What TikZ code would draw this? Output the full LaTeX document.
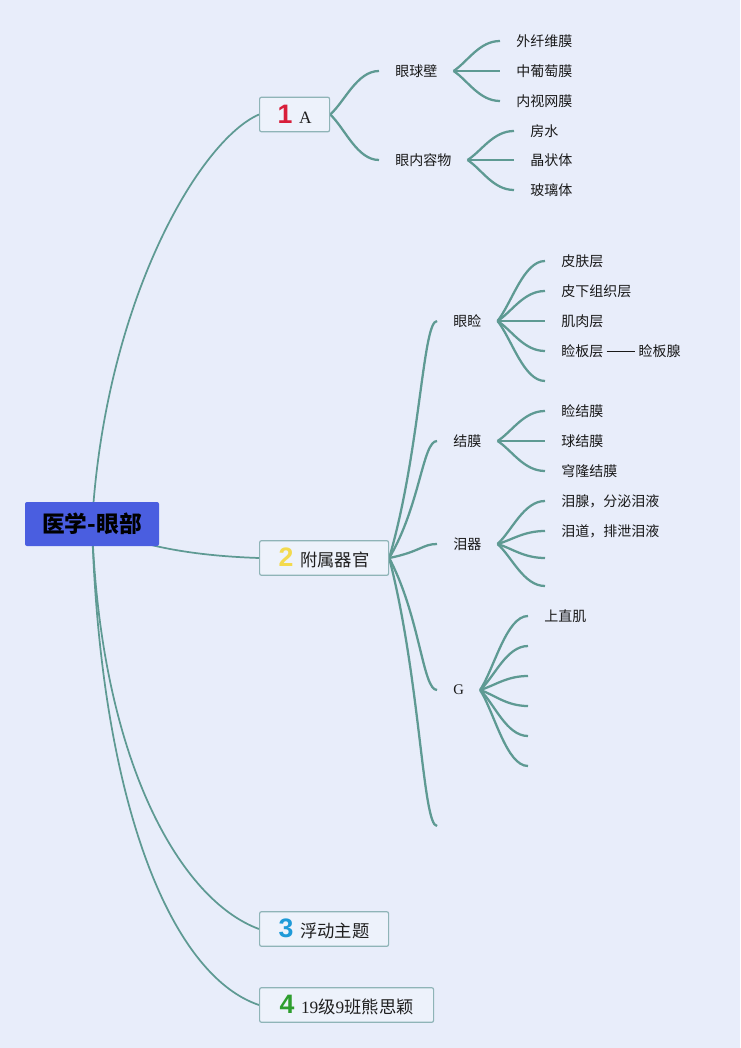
\documentclass[tikz,border=0pt]{standalone}
\usepackage{fontspec}
\setmainfont{Liberation Serif}
\newfontfamily\cjk{Noto Sans CJK SC}
\newfontfamily\badgefont{Liberation Sans}
\usetikzlibrary{calc}
\definecolor{bgc}{HTML}{E8EDFA}
\definecolor{linec}{HTML}{5E9A93}
\definecolor{rootc}{HTML}{4A5EE0}
\definecolor{boxfill}{HTML}{EDF2FB}
\definecolor{boxdraw}{HTML}{8FB4B7}
\definecolor{bred}{HTML}{D81E3A}
\definecolor{byellow}{HTML}{F3DA4E}
\definecolor{bblue}{HTML}{1E9AD8}
\definecolor{bgreen}{HTML}{2E9E2E}
\newcommand\badgenum[2]{{\badgefont\bfseries\fontsize{20}{20}\selectfont\color{#1}#2}}
\pgfdeclarelayer{bglayer}
\pgfdeclarelayer{lines}
\pgfsetlayers{bglayer,lines,main}
\tikzset{
  rootbox/.style={fill=rootc, rounded corners=1.5pt, minimum width=100.5pt, minimum height=33pt,
    inner sep=0pt, font=\cjk\bfseries\fontsize{17}{19}\selectfont, text=black},
  topic/.style={draw=boxdraw, line width=0.9pt, fill=boxfill, rounded corners=1.5pt, anchor=west,
    minimum height=26pt, inner xsep=12pt, inner ysep=0pt, font=\cjk\fontsize{13}{15}\selectfont, text=black!88},
  sub/.style={anchor=west, inner xsep=12pt, inner ysep=2pt, font=\cjk\fontsize{10.5}{12}\selectfont, text=black!90},
  rootline/.style={draw=linec, line width=1.3pt},
  fork/.style={draw=linec, line width=1.7pt},
  % short fan-shaped branch: leaves at an angle, lands horizontally
  twig/.style={to path={let \p1=(\tikztostart), \p2=(\tikztotarget) in
     .. controls (\x1+0.3*\x2-0.3*\x1,\y1+0.3*\y2-0.3*\y1) and (\x1+0.55*\x2-0.55*\x1,\y2) .. (\tikztotarget)}},
  % long branch: bends out quickly, lands horizontally
  bough/.style={to path={let \p1=(\tikztostart), \p2=(\tikztotarget) in
     .. controls (\x1+0.65*\x2-0.65*\x1,\y1+0.45*\y2-0.45*\y1) and (\x1+0.7*\x2-0.7*\x1,\y2) .. (\tikztotarget)}}
}
\begin{document}
\begin{tikzpicture}[x=0.75pt,y=-0.75pt]
\begin{pgfonlayer}{bglayer}
\path[use as bounding box, fill=bgc] (0,0) rectangle (740,1048);
\end{pgfonlayer}

% root and main topics
\node[rootbox] (root) at (92,524) {医学-眼部};
\node[topic, minimum width=52.5pt] (t1) at (259,114.5) {\badgenum{bred}{1}\hspace{5pt}{\rmfamily A}};
\node[topic, minimum width=96.75pt] (t2) at (259,558) {\badgenum{byellow}{2}\hspace{5pt}附属器官};
\node[topic, minimum width=96.75pt] (t3) at (259,929) {\badgenum{bblue}{3}\hspace{5pt}浮动主题};
\node[topic, minimum width=130.5pt] (t4) at (259,1005) {\badgenum{bgreen}{4}\hspace{5pt}{\rmfamily 19}级{\rmfamily 9}班熊思颖};

% topic 1 subtree
\node[sub] (s11) at (379,71) {眼球壁};
\node[sub] (s12) at (379,160) {眼内容物};
\node[sub] (l111) at (500,41) {外纤维膜};
\node[sub] (l112) at (500,71) {中葡萄膜};
\node[sub] (l113) at (500,101) {内视网膜};
\node[sub] (l121) at (514,131) {房水};
\node[sub] (l122) at (514,160) {晶状体};
\node[sub] (l123) at (514,190) {玻璃体};

% topic 2 subtree
\node[sub] (s21) at (437,321) {眼睑};
\node[sub] (s22) at (437,441) {结膜};
\node[sub] (s23) at (437,544) {泪器};
\node[sub] (s24) at (437,690) {\rmfamily\fontsize{11}{12}\selectfont G};
\coordinate (s25) at (437,826);

\node[sub] (l211) at (545,261) {皮肤层};
\node[sub] (l212) at (545,291) {皮下组织层};
\node[sub] (l213) at (545,321) {肌肉层};
\node[sub] (l214) at (545,351) {睑板层\hspace{2.5pt}\rule[0.36em]{21pt}{0.55pt}\hspace{3pt}睑板腺};
\coordinate (l215) at (545,381);

\node[sub] (l221) at (545,411) {睑结膜};
\node[sub] (l222) at (545,441) {球结膜};
\node[sub] (l223) at (545,471) {穹隆结膜};

\node[sub] (l231) at (545,501) {泪腺，分泌泪液};
\node[sub] (l232) at (545,531) {泪道，排泄泪液};
\coordinate (l233) at (545,558);
\coordinate (l234) at (545,586);

\node[sub] (l241) at (528,616) {上直肌};
\coordinate (l242) at (528,646);
\coordinate (l243) at (528,676);
\coordinate (l244) at (528,706);
\coordinate (l245) at (528,736);
\coordinate (l246) at (528,766);

\begin{pgfonlayer}{lines}
\draw[rootline] (root.center) .. controls (105,300) and (200,140) .. (t1.west);
\draw[rootline] (root.center) .. controls (140,548) and (200,556) .. (t2.west);
\draw[rootline] (root.center) .. controls (100,760) and (180,900) .. (t3.west);
\draw[rootline] (root.center) .. controls (100,800) and (170,975) .. (t4.west);

\foreach \s in {s11,s12} \draw[fork] (t1.east) to[twig] (\s.west);
\foreach \l in {l111,l112,l113} \draw[fork] (s11.east) to[twig] (\l.west);
\foreach \l in {l121,l122,l123} \draw[fork] (s12.east) to[twig] (\l.west);

\foreach \s in {s21,s22,s23,s24} \draw[fork] (t2.east) to[bough] (\s.west);
\draw[fork] (t2.east) to[bough] (s25);

\foreach \l in {l211,l212,l213,l214} \draw[fork] (s21.east) to[twig] (\l.west);
\draw[fork] (s21.east) to[twig] (l215);
\foreach \l in {l221,l222,l223} \draw[fork] (s22.east) to[twig] (\l.west);
\foreach \l in {l231,l232} \draw[fork] (s23.east) to[twig] (\l.west);
\foreach \l in {l233,l234} \draw[fork] (s23.east) to[twig] (\l);
\draw[fork] (s24.east) to[twig] (l241.west);
\foreach \l in {l242,l243,l244,l245,l246} \draw[fork] (s24.east) to[twig] (\l);
\end{pgfonlayer}
\end{tikzpicture}
\end{document}
